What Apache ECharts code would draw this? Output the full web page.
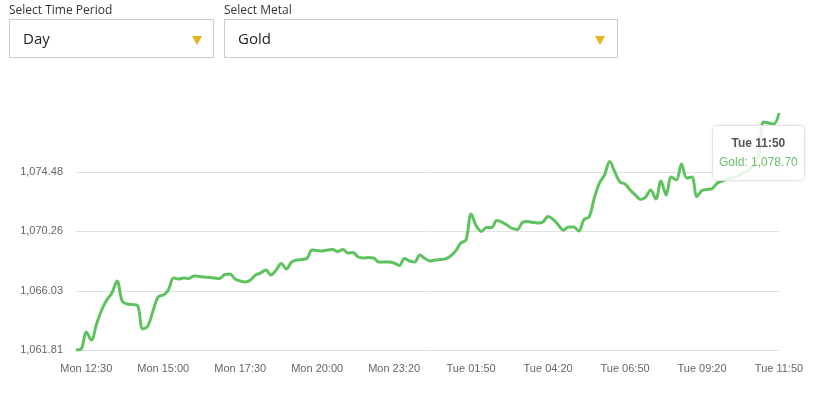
<!DOCTYPE html>
<html>
<head>
<meta charset="utf-8">
<script src="https://cdn.jsdelivr.net/npm/echarts@6/dist/echarts.min.js"></script>
<style>
  html, body { margin: 0; padding: 0; background: #fff; width: 827px; height: 393px; overflow: hidden; }
  #chart { position: absolute; left: 0; top: 0; width: 827px; height: 393px; }
  .lbl { position: absolute; font-family: "Open Sans", sans-serif; font-size: 12px; color: #333; top: 1px; }
  .box { position: absolute; top: 19px; height: 37px; border: 1px solid #cccccc; background: #fff; box-sizing: content-box; }
  .box span { position: absolute; left: 13px; top: 8px; font-family: "Open Sans", sans-serif; font-size: 15px; color: #222; }
  .tri { position: absolute; top: 16px; width: 0; height: 0; border-left: 5.5px solid transparent; border-right: 5.5px solid transparent; border-top: 9px solid #e2b51a; }
</style>
</head>
<body>
<div id="chart"></div>
<div class="lbl" style="left:9px;">Select Time Period</div>
<div class="box" style="left:9px; width:203px;"><span>Day</span><div class="tri" style="left:182px;"></div></div>
<div class="lbl" style="left:224px;">Select Metal</div>
<div class="box" style="left:224px; width:392px;"><span>Gold</span><div class="tri" style="left:370px;"></div></div>
<script>
// ---- data ----
const seriesName = 'Gold';
const xTickLabels = ['Mon 12:30','Mon 15:00','Mon 17:30','Mon 20:00','Mon 23:20','Tue 01:50','Tue 04:20','Tue 06:50','Tue 09:20','Tue 11:50'];
const yTickValues = [1061.81, 1066.03, 1070.26, 1074.48];
const yMin = 1061.81;
const yMax = 1078.70;
const goldPrices = [
  1061.81, 1061.88, 1063.09, 1062.52, 1063.66, 1064.66, 1065.37, 1065.87, 1066.73, 1065.30,
  1065.09, 1065.05, 1064.98, 1063.31, 1063.52, 1064.59, 1065.59, 1065.73, 1066.09, 1066.94,
  1066.87, 1066.94, 1066.91, 1067.08, 1067.05, 1067.01, 1066.98, 1066.94, 1066.91, 1067.19,
  1067.23, 1066.87, 1066.73, 1066.66, 1066.80, 1067.16, 1067.30, 1067.51, 1067.16, 1067.51,
  1067.98, 1067.58, 1068.08, 1068.22, 1068.26, 1068.33, 1068.94, 1068.90, 1068.87, 1068.94,
  1068.97, 1068.83, 1068.97, 1068.72, 1068.76, 1068.44, 1068.37, 1068.40, 1068.37, 1068.08,
  1068.08, 1068.08, 1068.01, 1067.83, 1068.33, 1068.15, 1068.08, 1068.58, 1068.33, 1068.15,
  1068.22, 1068.26, 1068.30, 1068.51, 1068.87, 1069.44, 1069.65, 1071.50, 1070.65, 1070.26,
  1070.54, 1070.54, 1071.04, 1070.93, 1070.72, 1070.47, 1070.40, 1070.90, 1070.97, 1070.90,
  1070.86, 1070.93, 1071.33, 1071.11, 1070.72, 1070.36, 1070.58, 1070.58, 1070.29, 1071.11,
  1071.29, 1072.64, 1073.71, 1074.28, 1075.24, 1074.50, 1073.78, 1073.64, 1073.21, 1072.86,
  1072.54, 1072.71, 1073.21, 1072.57, 1073.86, 1072.86, 1074.14, 1073.93, 1075.07, 1074.07,
  1074.14, 1072.75, 1073.18, 1073.25, 1073.32, 1073.71, 1073.86, 1074.00, 1074.10, 1074.21,
  1074.43, 1074.57, 1074.99, 1075.57, 1078.06, 1077.99, 1077.92, 1078.70
];
// time categories: 10-minute steps from Mon 12:10, with a gap in the evening
const startMinutes = 12 * 60 + 10;
const stepMinutes = 10;
const gapAfterIndex = 56;
const gapMinutes = 50;
const firstLabelIndex = 2;
const labelEvery = 15;

const days = ['Mon', 'Tue'];
const categories = goldPrices.map((_, i) => {
  const t = startMinutes + stepMinutes * i + (i > gapAfterIndex ? gapMinutes : 0);
  const d = Math.floor(t / 1440);
  const m = t % 1440;
  const hh = String(Math.floor(m / 60)).padStart(2, '0');
  const mm = String(m % 60).padStart(2, '0');
  return days[d] + ' ' + hh + ':' + mm;
});

const fmt = v => v.toLocaleString('en-US', { minimumFractionDigits: 2, maximumFractionDigits: 2 });

const chart = echarts.init(document.getElementById('chart'), null, { renderer: 'canvas' });
chart.setOption({
  animation: false,
  textStyle: { fontFamily: 'Liberation Sans, Arial, sans-serif' },
  grid: { left: 76, right: 48, top: 113, bottom: 43, containLabel: false },
  tooltip: {
    trigger: 'axis',
    alwaysShowContent: true,
    transitionDuration: 0,
    axisPointer: { type: 'none' },
    backgroundColor: 'rgba(255,255,255,0.85)',
    borderColor: '#e3e3e3',
    borderWidth: 1,
    borderRadius: 5,
    padding: [8, 6, 8, 6],
    extraCssText: 'box-shadow: 0 0 3px rgba(0,0,0,0.08); text-align:center;',
    position: function () { return [712, 125]; },
    formatter: function (params) {
      const p = params[0];
      return '<div style="font-family:Liberation Sans,Arial,sans-serif;font-size:12px;line-height:19px;">' +
        '<div style="font-weight:bold;color:#555;">' + p.name + '</div>' +
        '<div style="color:#6bbf6b;">' + seriesName + ': ' + fmt(p.value) + '</div></div>';
    }
  },
  xAxis: {
    type: 'category',
    data: categories,
    boundaryGap: false,
    axisLine: { show: false },
    axisTick: { show: false },
    splitLine: { show: false },
    axisLabel: {
      color: '#666',
      fontSize: 11,
      margin: 13,
      interval: function (index) { return (index - firstLabelIndex) % labelEvery === 0; },
      formatter: function (v) { return v; }
    }
  },
  yAxis: {
    type: 'value',
    min: yMin,
    max: yMax,
    axisLine: { show: false },
    axisTick: { show: false, customValues: yTickValues },
    axisLabel: {
      color: '#666',
      fontSize: 11,
      margin: 13,
      customValues: yTickValues,
      formatter: function (v) { return fmt(v); }
    },
    splitLine: { show: true, lineStyle: { color: '#e0e0e0', width: 1 } }
  },
  series: [{
    name: seriesName,
    type: 'line',
    data: goldPrices,
    symbol: 'none',
    smooth: 0.35,
    lineStyle: { color: '#56b156', width: 3 },
    itemStyle: { color: '#56b156' }
  }]
});
chart.dispatchAction({ type: 'showTip', seriesIndex: 0, dataIndex: goldPrices.length - 1 });
</script>
</body>
</html>
